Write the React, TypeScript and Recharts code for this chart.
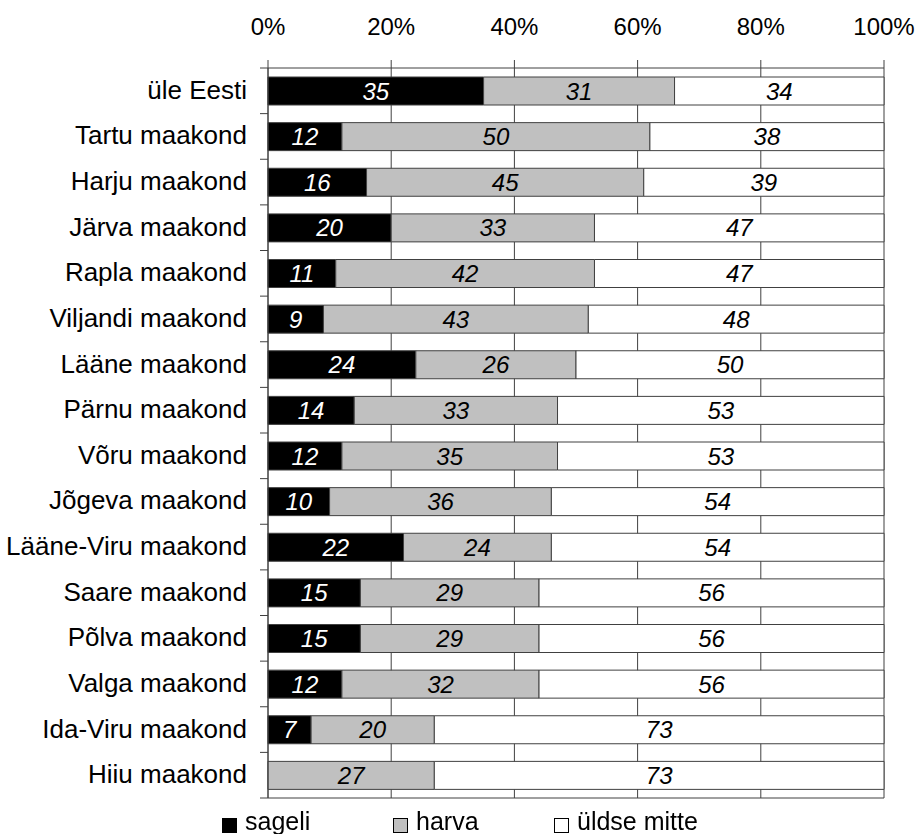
import { BarChart, Bar, XAxis, YAxis, CartesianGrid, LabelList } from "recharts";

const categories = [
  "üle Eesti",
  "Tartu maakond",
  "Harju maakond",
  "Järva maakond",
  "Rapla maakond",
  "Viljandi maakond",
  "Lääne maakond",
  "Pärnu maakond",
  "Võru maakond",
  "Jõgeva maakond",
  "Lääne-Viru maakond",
  "Saare maakond",
  "Põlva maakond",
  "Valga maakond",
  "Ida-Viru maakond",
  "Hiiu maakond",
];
const sageli = [35, 12, 16, 20, 11, 9, 24, 14, 12, 10, 22, 15, 15, 12, 7, 0];
const harva = [31, 50, 45, 33, 42, 43, 26, 33, 35, 36, 24, 29, 29, 32, 20, 27];
const yldse = [34, 38, 39, 47, 47, 48, 50, 53, 53, 54, 54, 56, 56, 56, 73, 73];
const xTicks = [0, 20, 40, 60, 80, 100];

const data = categories.map((name, i) => ({
  name,
  sageli: sageli[i],
  harva: harva[i],
  yldse: yldse[i],
}));

const FONT = '"Liberation Sans", Arial, sans-serif';
const LINE = "#404040";
const PLOT_TOP = 68;
const PLOT_BOTTOM = 798;
const BAND = (PLOT_BOTTOM - PLOT_TOP) / categories.length;

// category label plus the short tick marks that sit between the bands
function CategoryTick(props: any) {
  const { x, y, payload, index } = props;
  const axisX = x + 21;
  const half = BAND / 2;
  return (
    <g>
      <line x1={axisX - 8} x2={axisX} y1={y - half} y2={y - half} stroke={LINE} />
      {index === categories.length - 1 && (
        <line x1={axisX - 8} x2={axisX} y1={y + half} y2={y + half} stroke={LINE} />
      )}
      <text
        x={x}
        y={y}
        dy={8}
        textAnchor="end"
        fill="#000"
        fontSize={26}
        fontFamily={FONT}
      >
        {payload.value}
      </text>
    </g>
  );
}

const hideZero = (v: any) => (v === 0 ? "" : v);

const legendItems = [
  { label: "sageli", color: "#000000", left: 222 },
  { label: "harva", color: "#c0c0c0", left: 393 },
  { label: "üldse mitte", color: "#ffffff", left: 554 },
];

export default function App() {
  return (
    <div
      style={{
        position: "fixed",
        left: 0,
        top: 0,
        width: 918,
        height: 834,
        background: "#fff",
        fontFamily: FONT,
      }}
    >
      <BarChart
        width={918}
        height={834}
        data={data}
        layout="vertical"
        margin={{ top: 0, right: 34, bottom: 0, left: 0 }}
        barSize={28}
      >
        <CartesianGrid
          xAxisId="top"
          horizontal={false}
          stroke={LINE}
          strokeWidth={1}
        />
        <XAxis
          xAxisId="top"
          orientation="top"
          type="number"
          domain={[0, 100]}
          ticks={xTicks}
          tickFormatter={(v) => `${v}%`}
          height={PLOT_TOP}
          tickSize={8}
          tickMargin={25}
          axisLine={{ stroke: LINE }}
          tickLine={{ stroke: LINE }}
          tick={{ fill: "#000", fontSize: 24, fontFamily: FONT }}
          interval={0}
        />
        <XAxis
          xAxisId="bottom"
          orientation="bottom"
          type="number"
          domain={[0, 100]}
          height={834 - PLOT_BOTTOM}
          tick={false}
          tickLine={false}
          axisLine={{ stroke: LINE }}
        />
        <YAxis
          type="category"
          dataKey="name"
          width={268}
          tickSize={0}
          tickMargin={21}
          axisLine={{ stroke: LINE }}
          tickLine={false}
          interval={0}
          tick={<CategoryTick />}
        />
        <Bar
          xAxisId="top"
          dataKey="sageli"
          stackId="a"
          fill="#000000"
          stroke={LINE}
          strokeWidth={1}
          isAnimationActive={false}
        >
          <LabelList
            dataKey="sageli"
            position="center"
            formatter={hideZero}
            fill="#ffffff"
            style={{ fontStyle: "italic", fontSize: 24, fontFamily: FONT }}
          />
        </Bar>
        <Bar
          xAxisId="top"
          dataKey="harva"
          stackId="a"
          fill="#c0c0c0"
          stroke={LINE}
          strokeWidth={1}
          isAnimationActive={false}
        >
          <LabelList
            dataKey="harva"
            position="center"
            formatter={hideZero}
            fill="#000000"
            style={{ fontStyle: "italic", fontSize: 24, fontFamily: FONT }}
          />
        </Bar>
        <Bar
          xAxisId="top"
          dataKey="yldse"
          stackId="a"
          fill="#ffffff"
          stroke={LINE}
          strokeWidth={1}
          isAnimationActive={false}
        >
          <LabelList
            dataKey="yldse"
            position="center"
            formatter={hideZero}
            fill="#000000"
            style={{ fontStyle: "italic", fontSize: 24, fontFamily: FONT }}
          />
        </Bar>
      </BarChart>
      {legendItems.map((item) => (
        <div key={item.label}>
          <div
            style={{
              position: "absolute",
              left: item.left,
              top: 818,
              width: 13,
              height: 13,
              background: item.color,
              border: "1px solid #000",
            }}
          />
          <div
            style={{
              position: "absolute",
              left: item.left + 23,
              top: 809,
              fontSize: 25,
              lineHeight: "25px",
              color: "#000",
              whiteSpace: "nowrap",
            }}
          >
            {item.label}
          </div>
        </div>
      ))}
    </div>
  );
}
